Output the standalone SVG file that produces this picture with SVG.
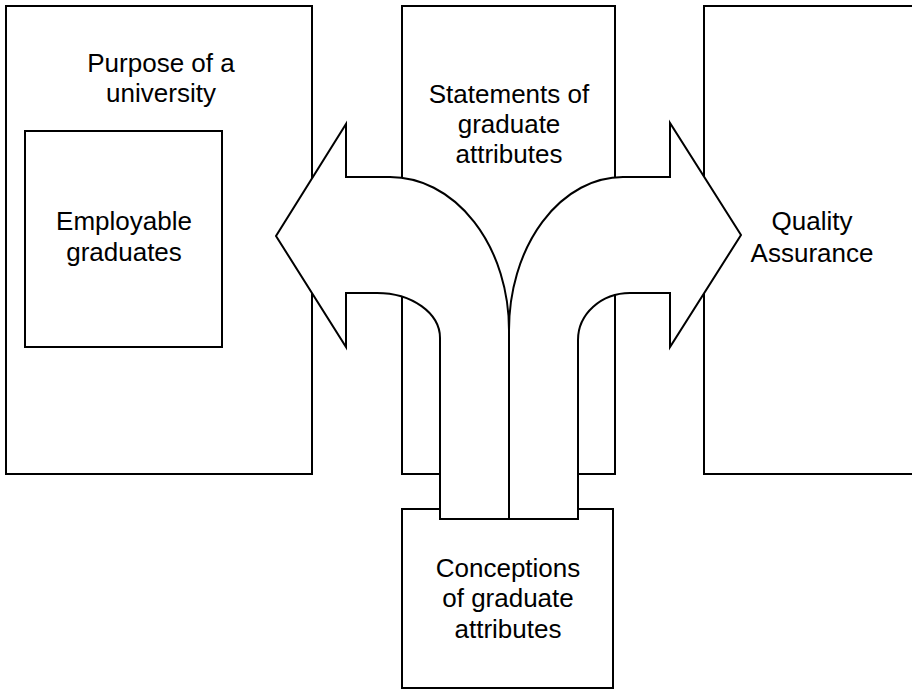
<svg xmlns="http://www.w3.org/2000/svg" width="912" height="690" viewBox="0 0 912 690">
  <style>
    .box { fill: #ffffff; stroke: #000000; stroke-width: 2; }
    .arrow { fill: #ffffff; stroke: #000000; stroke-width: 2; stroke-linejoin: miter; }
    .label { font-family: "Liberation Sans", Arial, sans-serif; font-size: 26px; fill: #000000; text-anchor: middle; }
  </style>
  <rect width="912" height="690" fill="#ffffff"/>

  <!-- Outer box: purpose of a university, with the nested outcome box -->
  <g id="purpose">
    <rect class="box" x="6" y="6" width="306" height="468"/>
    <text class="label" x="161" y="72">Purpose of a</text>
    <text class="label" x="161" y="102">university</text>
  </g>
  <g id="employable">
    <rect class="box" x="25" y="131" width="197" height="216"/>
    <text class="label" x="124" y="230">Employable</text>
    <text class="label" x="124" y="261">graduates</text>
  </g>

  <g id="statements">
    <rect class="box" x="402" y="6" width="213" height="468"/>
    <text class="label" x="509" y="103">Statements of</text>
    <text class="label" x="509" y="133">graduate</text>
    <text class="label" x="509" y="163">attributes</text>
  </g>

  <g id="quality">
    <rect class="box" x="704" y="6" width="230" height="468"/>
    <text class="label" x="812" y="230">Quality</text>
    <text class="label" x="812" y="262">Assurance</text>
  </g>

  <g id="conceptions">
    <rect class="box" x="402" y="509" width="211" height="179"/>
    <text class="label" x="508" y="577">Conceptions</text>
    <text class="label" x="508" y="607">of graduate</text>
    <text class="label" x="508" y="638">attributes</text>
  </g>

  <!-- Split block arrow rising from the conceptions box -->
  <g id="connectors">
    <path class="arrow" d="M509,519 L509,330 A119,153 0 0 0 390,177 L346,177 L346,124 L276,236 L346,347 L346,293 L377,293 A63,45 0 0 1 440,338 L440,519 Z"/>
    <path class="arrow" d="M509,519 L509,330 A114,153 0 0 1 623,177 L670,177 L670,123 L741,235 L670,347 L670,293 L630,293 A52,47 0 0 0 578,340 L578,519 Z"/>
  </g>
</svg>
